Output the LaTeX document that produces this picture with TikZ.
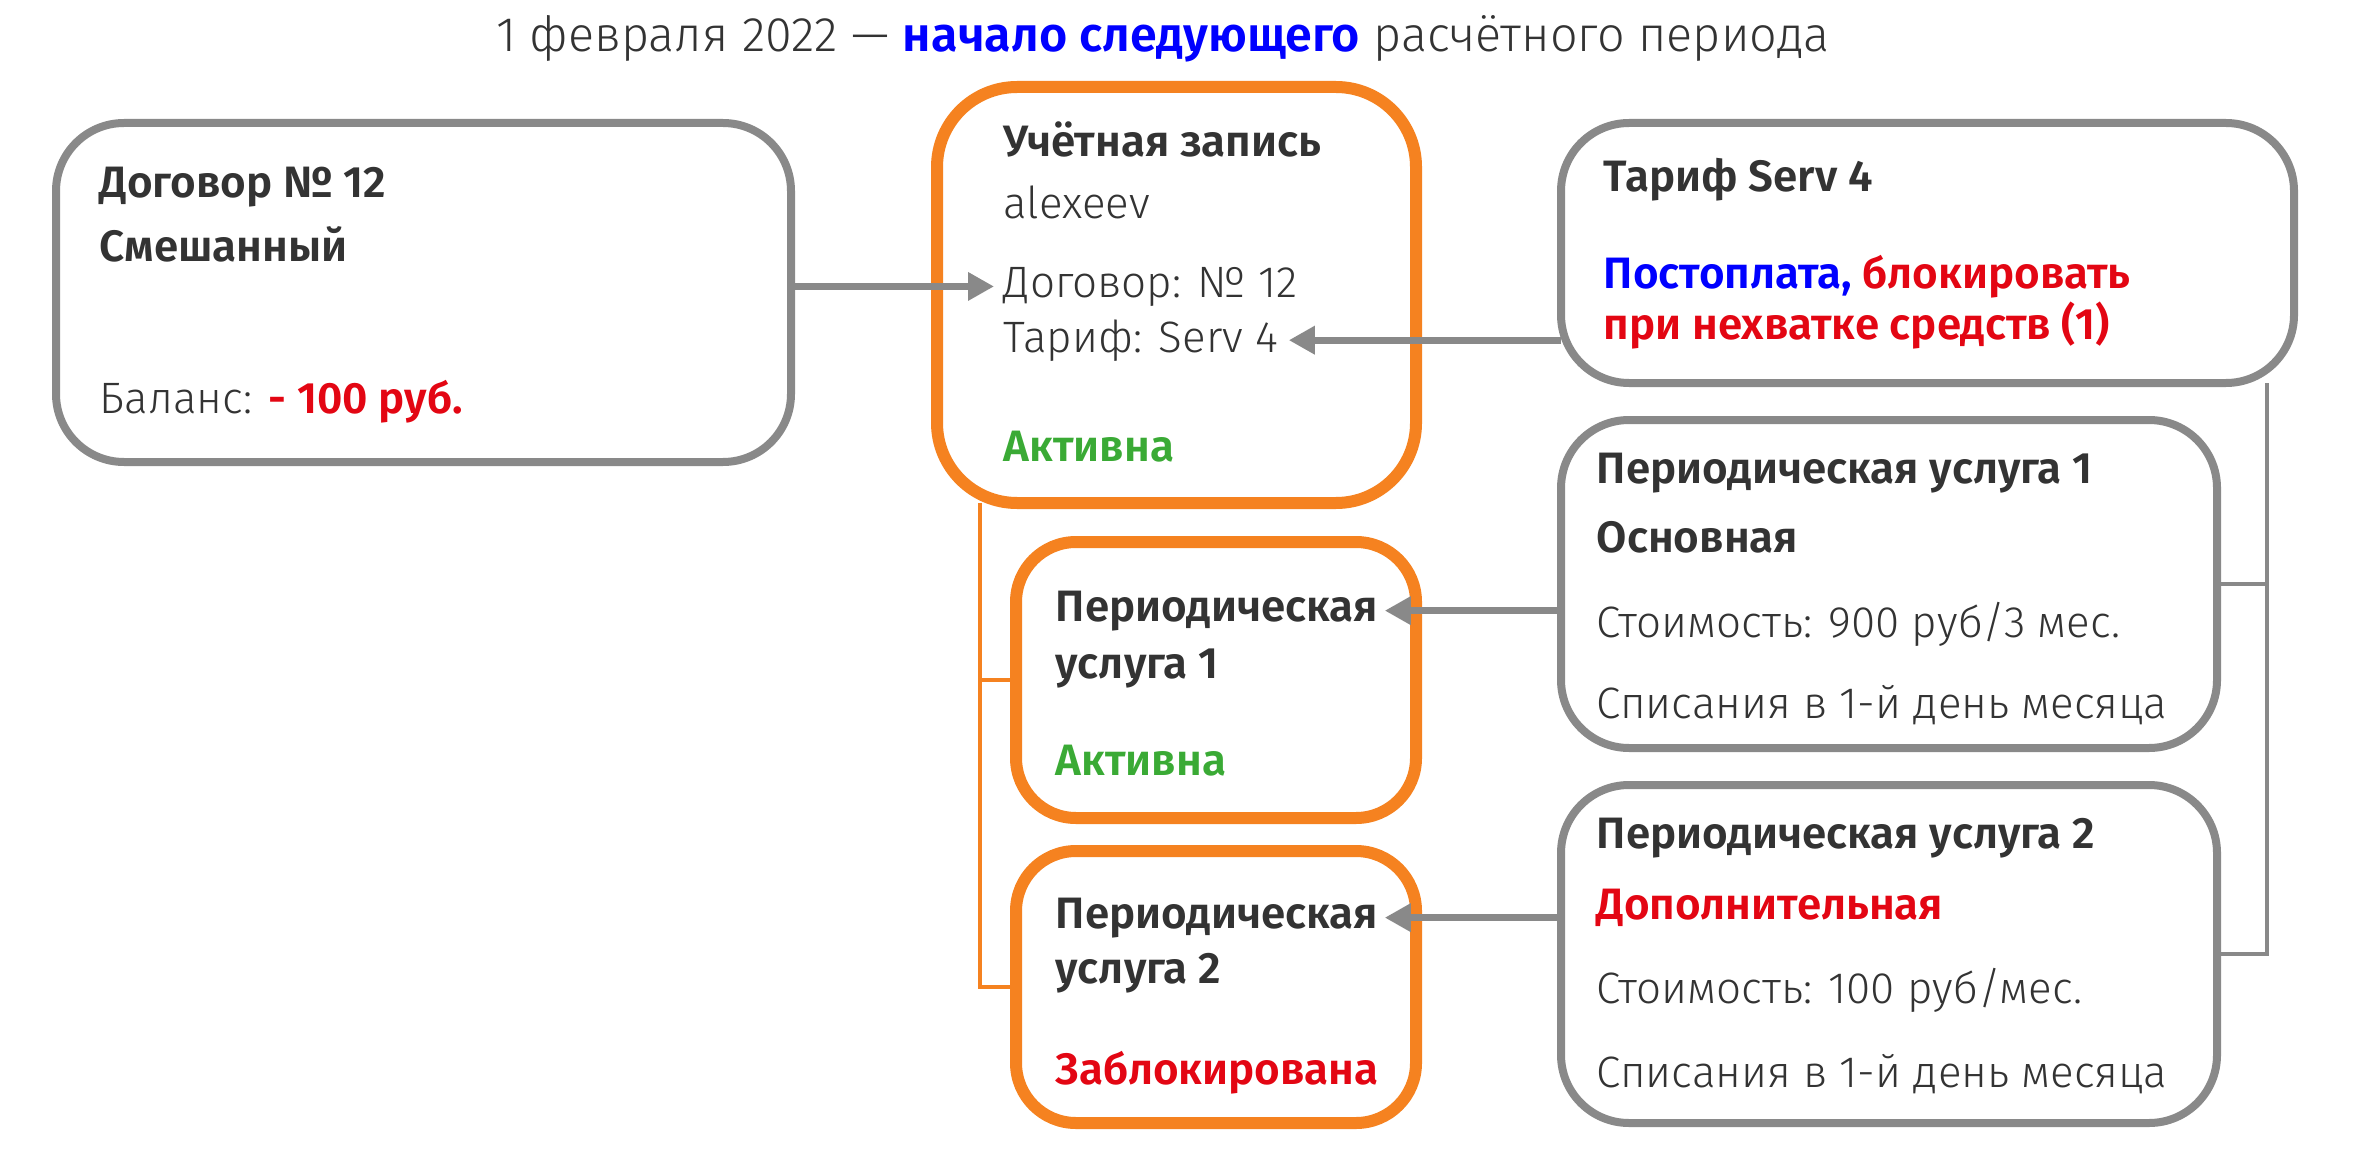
\documentclass[tikz,border=0pt]{standalone}
\usepackage{fontspec}
\setmainfont{Fira Sans}[UprightFont=* Light, BoldFont=* SemiBold]
\usetikzlibrary{arrows.meta,calc}
\definecolor{lGray}{HTML}{898989}
\definecolor{aOrange}{HTML}{F58220}
\definecolor{tDark}{HTML}{333333}
\definecolor{sGreen}{HTML}{3AAA35}
\definecolor{sRed}{HTML}{E30613}
\definecolor{sBlue}{HTML}{0000FF}
\newcommand\bodyfont{\fontsize{12.5}{15}\selectfont}
\tikzset{
  gbox/.style={draw=lGray, fill=white, line width=0.8mm, rounded corners=6.8mm,
    anchor=north west, inner sep=0pt, outer sep=0pt},
  obox/.style={draw=aOrange, fill=white, line width=1.2mm, rounded corners=7mm,
    anchor=north west, inner sep=0pt, outer sep=0pt},
  txt/.style={anchor=base west, inner sep=0pt, text=tDark, font=\bodyfont},
  link/.style={draw=lGray, line width=0.7mm, -{Triangle[length=2.6mm, width=2.7mm]}},
  tree/.style={draw=aOrange, line width=0.4mm},
  rail/.style={draw=lGray, line width=0.4mm},
}
\begin{document}
\begin{tikzpicture}[x=0.1mm,y=-0.1mm]
  \useasboundingbox[fill=white] (0,0) rectangle (2354,1148);
  % title
  \node[txt, anchor=base, font=\fontsize{13.8}{16}\selectfont] (title) at (1163,52)
    {1 февраля 2022 — \textcolor{sBlue}{\bfseries начало следующего} расчётного периода};
  % boxes
  \node[gbox, minimum width=73.5mm, minimum height=33.9mm] (dog) at (56,123) {};
  \node[obox, rounded corners=8mm, minimum width=47.9mm, minimum height=41.6mm] (acc) at (937,87) {};
  \node[obox, rounded corners=6mm, minimum width=40mm, minimum height=27.6mm] (srv1) at (1016,542) {};
  \node[obox, rounded corners=6mm, minimum width=40mm, minimum height=27.2mm] (srv2) at (1016,851) {};
  \node[gbox, minimum width=73.3mm, minimum height=26mm] (tar) at (1561,123) {};
  \node[gbox, minimum width=65.6mm, minimum height=32.8mm] (per1) at (1561,420) {};
  \node[gbox, minimum width=65.6mm, minimum height=33.8mm] (per2) at (1561,785) {};
  % texts
  \foreach \n/\y/\t in {1/198/{\bfseries Договор №~12}, 2/261/{\bfseries Смешанный},
    3/413/{Баланс: \textcolor{sRed}{\bfseries - 100 руб.}}}
    \node[txt] (dog-\n) at (99,\y) {\t};
  \foreach \n/\y/\t in {1/157/{\bfseries Учётная запись}, 2/218/{alexeev},
    3/297/{Договор: №~12}, 4/352/{Тариф: Serv 4}, 5/461/{\color{sGreen}\bfseries Активна}}
    \node[txt] (acc-\n) at (1003,\y) {\t};
  \foreach \n/\y/\t in {1/621/{\bfseries Периодическая}, 2/678/{\bfseries услуга 1},
    3/775/{\color{sGreen}\bfseries Активна}}
    \node[txt] (srv1-\n) at (1055,\y) {\t};
  \foreach \n/\y/\t in {1/928/{\bfseries Периодическая}, 2/983/{\bfseries услуга 2},
    3/1084/{\color{sRed}\bfseries Заблокирована}}
    \node[txt] (srv2-\n) at (1055,\y) {\t};
  \foreach \n/\y/\t in {1/192/{\bfseries Тариф Serv 4},
    2/288/{\bfseries\textcolor{sBlue}{Постоплата,} \textcolor{sRed}{блокировать}},
    3/339/{\color{sRed}\bfseries при нехватке средств (1)}}
    \node[txt] (tar-\n) at (1603,\y) {\t};
  \foreach \n/\y/\t in {1/483/{\bfseries Периодическая услуга 1}, 2/552/{\bfseries Основная},
    3/637/{Стоимость: 900 руб/3 мес.}, 4/718/{Списания в 1-й день месяца}}
    \node[txt] (per1-\n) at (1596,\y) {\t};
  \foreach \n/\y/\t in {1/848/{\bfseries Периодическая услуга 2},
    2/919/{\color{sRed}\bfseries Дополнительная},
    3/1003/{Стоимость: 100 руб/мес.}, 4/1087/{Списания в 1-й день месяца}}
    \node[txt] (per2-\n) at (1596,\y) {\t};
  % connectors
  \coordinate (treetop) at ([xshift=4.3mm]acc.south west);
  \draw[tree] (treetop) |- (srv2.west);
  \draw[tree] (srv1.west) -- (srv1.west -| treetop);
  \coordinate (railtop) at ([xshift=-2.7mm]tar.south east);
  \draw[rail] (railtop) |- (per2.east);
  \draw[rail] (per1.east) -- (per1.east -| railtop);
  \draw[link] (dog.east |- acc-3.west) -- ([xshift=-0.9mm]acc-3.west);
  \draw[link] (tar.west |- acc-4.east) -- ([xshift=1mm]acc-4.east);
  \draw[link] (per1.west |- srv1-1.east) -- ([xshift=0.6mm]srv1-1.east);
  \draw[link] (per2.west |- srv2-1.east) -- ([xshift=0.6mm]srv2-1.east);
\end{tikzpicture}
\end{document}
